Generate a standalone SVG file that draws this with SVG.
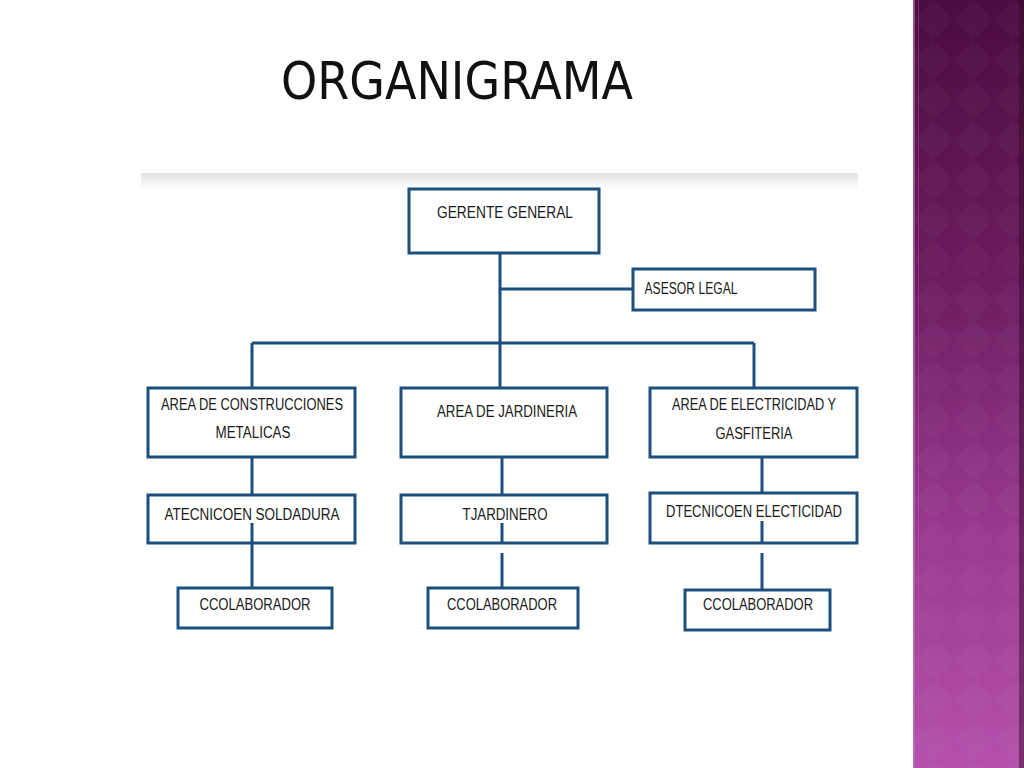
<svg xmlns="http://www.w3.org/2000/svg" width="1024" height="768" viewBox="0 0 1024 768">
<defs>
<linearGradient id="band" x1="0" y1="0" x2="0" y2="1">
<stop offset="0" stop-color="#4b0c3f"/>
<stop offset="0.35" stop-color="#6a1c5e"/>
<stop offset="0.7" stop-color="#9a3a90"/>
<stop offset="1" stop-color="#b350ab"/>
</linearGradient>
<linearGradient id="shade" x1="0" y1="0" x2="0" y2="1">
<stop offset="0" stop-color="#e2e2e2"/>
<stop offset="1" stop-color="#ffffff"/>
</linearGradient>
<pattern id="diam" width="40" height="40" patternUnits="userSpaceOnUse" x="913" y="0">
<path d="M20 0 L40 20 L20 40 L0 20 Z" fill="#ffffff" fill-opacity="0.025"/>
</pattern>
<style>
.box{fill:#ffffff;stroke:#1d4f7c;stroke-width:3}
.ln{stroke:#1d4f7c;stroke-width:3;fill:none}
.t{font-family:"Liberation Sans",Arial,sans-serif;font-size:16px;fill:#1a1a1a;text-anchor:middle}
</style>
</defs>
<rect width="1024" height="768" fill="#ffffff"/>
<g id="band-deco">
<rect x="913" y="0" width="111" height="768" fill="url(#band)"/>
<rect x="913" y="0" width="111" height="768" fill="url(#diam)"/>
<rect x="913" y="0" width="2" height="768" fill="#c77bbd" fill-opacity="0.6"/>
<rect x="918" y="0" width="1" height="768" fill="#d05ac5" fill-opacity="0.35"/>
<rect x="1019" y="0" width="5" height="768" fill="#2e0826" fill-opacity="0.45"/>
</g>
<text x="457" y="99" font-family="'DejaVu Sans',sans-serif" font-size="52" fill="#111111" text-anchor="middle" textLength="352" lengthAdjust="spacingAndGlyphs">ORGANIGRAMA</text>
<rect x="141" y="173" width="717" height="16" fill="url(#shade)"/>
<g id="gerente"><rect class="box" x="409" y="189" width="190" height="64"/><text class="t" x="505" y="218" textLength="136" lengthAdjust="spacingAndGlyphs">GERENTE GENERAL</text></g>
<g id="asesor"><rect class="box" x="633" y="269" width="182" height="41"/><text class="t" x="691" y="294" textLength="93" lengthAdjust="spacingAndGlyphs">ASESOR LEGAL</text></g>
<g id="area-construcciones"><rect class="box" x="148" y="388" width="207" height="69"/><text class="t" x="252" y="410" textLength="182" lengthAdjust="spacingAndGlyphs">AREA DE CONSTRUCCIONES</text><text class="t" x="253" y="438" textLength="75" lengthAdjust="spacingAndGlyphs">METALICAS</text></g>
<g id="area-jardineria"><rect class="box" x="401" y="388" width="206" height="69"/><text class="t" x="507" y="417" textLength="140" lengthAdjust="spacingAndGlyphs">AREA DE JARDINERIA</text></g>
<g id="area-electricidad"><rect class="box" x="650" y="388" width="207" height="69"/><text class="t" x="754" y="410" textLength="164" lengthAdjust="spacingAndGlyphs">AREA DE ELECTRICIDAD Y</text><text class="t" x="754" y="439" textLength="77" lengthAdjust="spacingAndGlyphs">GASFITERIA</text></g>
<g id="tecnico-soldadura"><rect class="box" x="148" y="495" width="207" height="48"/><text class="t" x="252" y="520" textLength="175" lengthAdjust="spacingAndGlyphs">ATECNICOEN SOLDADURA</text></g>
<g id="jardinero"><rect class="box" x="401" y="495" width="206" height="48"/><text class="t" x="505" y="520" textLength="85" lengthAdjust="spacingAndGlyphs">TJARDINERO</text></g>
<g id="tecnico-electricidad"><rect class="box" x="650" y="493" width="207" height="50"/><text class="t" x="754" y="517" textLength="176" lengthAdjust="spacingAndGlyphs">DTECNICOEN ELECTICIDAD</text></g>
<g id="colaborador-1"><rect class="box" x="178" y="588" width="154" height="40"/><text class="t" x="255" y="610" textLength="111" lengthAdjust="spacingAndGlyphs">CCOLABORADOR</text></g>
<g id="colaborador-2"><rect class="box" x="428" y="588" width="150" height="40"/><text class="t" x="502" y="610" textLength="110" lengthAdjust="spacingAndGlyphs">CCOLABORADOR</text></g>
<g id="colaborador-3"><rect class="box" x="685" y="590" width="145" height="40"/><text class="t" x="758" y="610" textLength="110" lengthAdjust="spacingAndGlyphs">CCOLABORADOR</text></g>
<g id="connectors">
<line class="ln" x1="500" y1="254" x2="500" y2="387"/>
<line class="ln" x1="500" y1="289" x2="632" y2="289"/>
<line class="ln" x1="252" y1="343" x2="754" y2="343"/>
<line class="ln" x1="252" y1="343" x2="252" y2="387"/>
<line class="ln" x1="754" y1="343" x2="754" y2="387"/>
<line class="ln" x1="252" y1="458" x2="252" y2="494"/>
<line class="ln" x1="252" y1="523" x2="252" y2="587"/>
<line class="ln" x1="502" y1="458" x2="502" y2="494"/>
<line class="ln" x1="502" y1="523" x2="502" y2="542"/>
<line class="ln" x1="502" y1="553" x2="502" y2="587"/>
<line class="ln" x1="762" y1="458" x2="762" y2="492"/>
<line class="ln" x1="762" y1="521" x2="762" y2="542"/>
<line class="ln" x1="762" y1="553" x2="762" y2="589"/>
</g>
</svg>
